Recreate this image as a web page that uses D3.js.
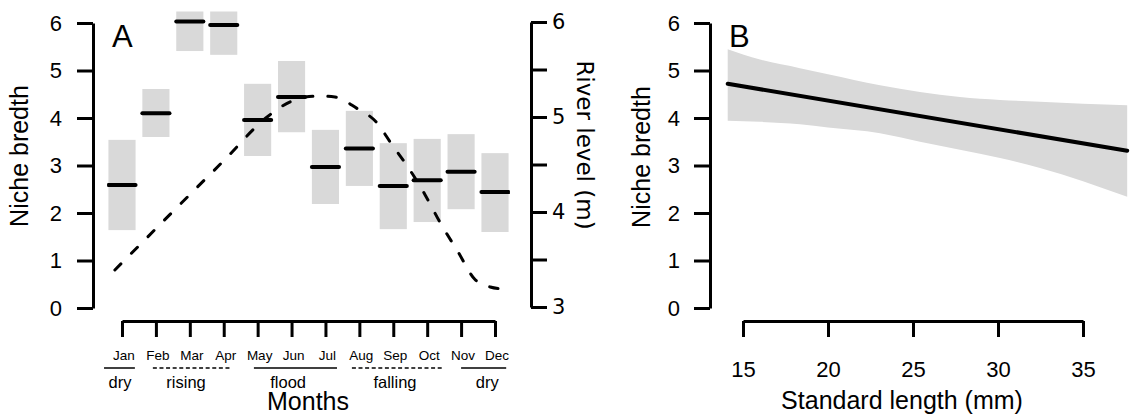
<html>
<head>
<meta charset="utf-8">
<script src="https://d3js.org/d3.v7.min.js"></script>
<style>
body { margin: 0; background: #fff; }
text { fill: #000; }
</style>
</head>
<body>
<div id="chart"></div>
<script>
// panel A: monthly niche breadth (mean and interval) + river level
var months = ["Jan", "Feb", "Mar", "Apr", "May", "Jun", "Jul", "Aug", "Sep", "Oct", "Nov", "Dec"];
var nicheMean = [2.59, 4.10, 6.03, 5.96, 3.96, 4.44, 2.97, 3.36, 2.57, 2.69, 2.87, 2.44];
var nicheLow  = [1.64, 3.60, 5.41, 5.33, 3.20, 3.70, 2.19, 2.57, 1.66, 1.81, 2.08, 1.60];
var nicheHigh = [3.54, 4.61, 6.60, 6.60, 4.72, 5.20, 3.75, 4.15, 3.47, 3.56, 3.66, 3.26];

var riverMonth = [0.79, 2.6, 4.0, 5.28, 5.96, 6.40, 6.84, 7.28, 7.93, 8.49, 8.96, 9.44, 9.94, 10.38, 10.91, 11.41, 11.86, 12.24];
var riverLevel = [3.39, 4.04, 4.54, 5.00, 5.16, 5.21, 5.22, 5.21, 5.09, 4.95, 4.71, 4.47, 4.18, 3.89, 3.58, 3.29, 3.21, 3.19];

var seasonNames = ["dry", "rising", "flood", "falling", "dry"];
var seasonFrom  = [0.47, 1.91, 4.89, 7.78, 11.0];
var seasonTo    = [1.38, 4.24, 7.34, 10.47, 12.33];
var seasonLabel = [0.94, 2.89, 5.9, 9.05, 11.77];
var seasonDashed = [false, true, false, true, false];

var nicheTicks = [0, 1, 2, 3, 4, 5, 6];
var riverTicks = [3, 3.5, 4, 4.5, 5, 5.5, 6];

// panel B: niche breadth vs standard length
var slGrid  = [14.1, 16, 18.35, 20, 23.06, 25.41, 27.76, 30.12, 32.47, 35, 37.6];
var slUpper = [5.45, 5.23, 5.05, 4.92, 4.69, 4.55, 4.44, 4.38, 4.34, 4.30, 4.27];
var slLower = [3.94, 3.92, 3.87, 3.80, 3.68, 3.50, 3.33, 3.16, 2.95, 2.67, 2.34];
var fitSL   = [14.1, 37.6];
var fitVal  = [4.72, 3.31];
var slTicks = [15, 20, 25, 30, 35];

var font = "'Liberation Sans', Arial, Helvetica, sans-serif";
var font2 = "'DejaVu Sans', sans-serif";

var svg = d3.select("#chart").append("svg")
	.attr("width", 1130)
	.attr("height", 415);

function styleAxis(g, size) {
	g.select(".domain").attr("stroke", "#000").attr("stroke-width", 3);
	g.selectAll(".tick line").attr("stroke", "#000").attr("stroke-width", 3);
	g.selectAll(".tick text").style("font-family", font).style("font-size", size + "px").attr("fill", "#000");
}

// ---------- panel A ----------
var xA = d3.scaleLinear().domain([1, 12]).range([122, 495]);
var yA = d3.scaleLinear().domain([0, 6]).range([308, 23]);
var yR = d3.scaleLinear().domain([3, 6]).range([307, 22]);

svg.append("clipPath").attr("id", "clipA")
	.append("rect")
	.attr("x", xA(0.56)).attr("y", yA(6.24))
	.attr("width", xA(12.44) - xA(0.56))
	.attr("height", yA(-0.24) - yA(6.24));

var pa = svg.append("g").attr("clip-path", "url(#clipA)");
var bw = 0.4;

pa.selectAll("rect.box")
	.data(months)
	.enter().append("rect")
	.attr("class", "box")
	.attr("x", (d, i) => xA(i + 1 - bw))
	.attr("width", xA(1 + bw) - xA(1 - bw))
	.attr("y", (d, i) => yA(nicheHigh[i]))
	.attr("height", (d, i) => yA(nicheLow[i]) - yA(nicheHigh[i]))
	.attr("fill", "#d9d9d9");

var riverLine = d3.line()
	.x((d, i) => xA(riverMonth[i]))
	.y(d => yR(d))
	.curve(d3.curveMonotoneX);

pa.append("path")
	.attr("d", riverLine(riverLevel))
	.attr("fill", "none")
	.attr("stroke", "#000")
	.attr("stroke-width", 3)
	.attr("stroke-linecap", "round")
	.attr("stroke-dasharray", "8.5,15");

pa.selectAll("line.mean")
	.data(nicheMean)
	.enter().append("line")
	.attr("class", "mean")
	.attr("x1", (d, i) => xA(i + 1 - bw))
	.attr("x2", (d, i) => xA(i + 1 + bw))
	.attr("y1", d => yA(d))
	.attr("y2", d => yA(d))
	.attr("stroke", "#000")
	.attr("stroke-width", 4)
	.attr("stroke-linecap", "round");

svg.append("g")
	.attr("transform", "translate(93,0)")
	.call(d3.axisLeft(yA).tickValues(nicheTicks).tickFormat(d3.format("d"))
		.tickSize(16).tickSizeOuter(0).tickPadding(15))
	.call(g => styleAxis(g, 22));

svg.append("g")
	.attr("transform", "translate(0,321)")
	.call(d3.axisBottom(xA).tickValues(d3.range(1, 13)).tickFormat("").tickSize(16).tickSizeOuter(0))
	.call(g => styleAxis(g, 14));

var ra = svg.append("g")
	.attr("transform", "translate(531,0)")
	.call(d3.axisRight(yR).tickValues(riverTicks).tickSize(16).tickSizeOuter(0).tickPadding(5)
		.tickFormat(d => Number.isInteger(d) ? d : ""))
	.call(g => styleAxis(g, 21));
ra.selectAll(".tick text").style("font-family", font2);

svg.selectAll("text.month")
	.data(months)
	.enter().append("text")
	.attr("class", "month")
	.attr("x", (d, i) => xA(i + 1) + 2)
	.attr("y", 360)
	.attr("text-anchor", "middle")
	.style("font-family", font)
	.style("font-size", "13.5px")
	.text(d => d);

svg.selectAll("line.season")
	.data(seasonNames)
	.enter().append("line")
	.attr("class", "season")
	.attr("x1", (d, i) => xA(seasonFrom[i]))
	.attr("x2", (d, i) => xA(seasonTo[i]))
	.attr("y1", 368).attr("y2", 368)
	.attr("stroke", "#000")
	.attr("stroke-width", 1.5)
	.attr("stroke-dasharray", (d, i) => seasonDashed[i] ? "4,2.6" : null);

svg.selectAll("text.season")
	.data(seasonNames)
	.enter().append("text")
	.attr("class", "season")
	.attr("x", (d, i) => xA(seasonLabel[i]))
	.attr("y", 388)
	.attr("text-anchor", "middle")
	.style("font-family", font)
	.style("font-size", "16.5px")
	.text(d => d);

svg.append("text")
	.attr("x", 308).attr("y", 410)
	.attr("text-anchor", "middle")
	.style("font-family", font).style("font-size", "25px")
	.text("Months");

svg.append("text")
	.attr("transform", "translate(28,156) rotate(-90)")
	.attr("text-anchor", "middle")
	.style("font-family", font).style("font-size", "25px")
	.text("Niche bredth");

svg.append("text")
	.attr("transform", "translate(577,145) rotate(90)")
	.attr("text-anchor", "middle")
	.style("font-family", font2).style("font-size", "23px")
	.text("River level (m)");

svg.append("text")
	.attr("x", 112).attr("y", 47)
	.style("font-family", font).style("font-size", "31px")
	.text("A");

// ---------- panel B ----------
var xB = d3.scaleLinear().domain([15, 35]).range([743, 1083]);
var yB = d3.scaleLinear().domain([0, 6]).range([308, 23]);

var band = d3.area()
	.x((d, i) => xB(slGrid[i]))
	.y0((d, i) => yB(slLower[i]))
	.y1(d => yB(d))
	.curve(d3.curveMonotoneX);

svg.append("path")
	.attr("d", band(slUpper))
	.attr("fill", "#d9d9d9");

svg.append("path")
	.attr("d", d3.line().x((d, i) => xB(fitSL[i])).y(d => yB(d))(fitVal))
	.attr("fill", "none")
	.attr("stroke", "#000")
	.attr("stroke-width", 4)
	.attr("stroke-linecap", "round");

svg.append("g")
	.attr("transform", "translate(710,0)")
	.call(d3.axisLeft(yB).tickValues(nicheTicks).tickFormat(d3.format("d"))
		.tickSize(16).tickSizeOuter(0).tickPadding(14))
	.call(g => styleAxis(g, 22));

svg.append("g")
	.attr("transform", "translate(0,321)")
	.call(d3.axisBottom(xB).tickValues(slTicks).tickSize(16).tickSizeOuter(0).tickPadding(24))
	.call(g => styleAxis(g, 22));

svg.append("text")
	.attr("x", 902).attr("y", 409)
	.attr("text-anchor", "middle")
	.style("font-family", font).style("font-size", "25px")
	.text("Standard length (mm)");

svg.append("text")
	.attr("transform", "translate(650,157) rotate(-90)")
	.attr("text-anchor", "middle")
	.style("font-family", font).style("font-size", "25px")
	.text("Niche bredth");

svg.append("text")
	.attr("x", 729).attr("y", 47)
	.style("font-family", font).style("font-size", "31px")
	.text("B");
</script>
</body>
</html>
